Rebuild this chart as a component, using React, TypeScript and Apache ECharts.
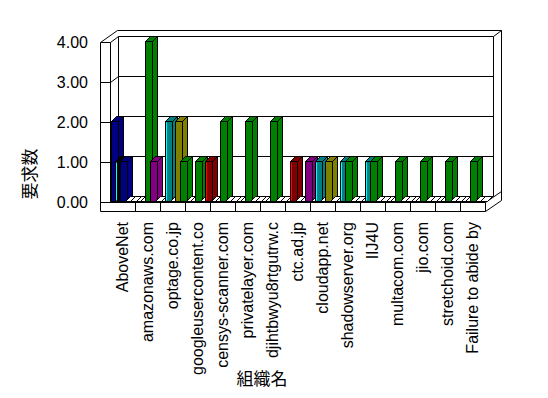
import React, { useEffect, useRef } from "react";
import * as echarts from "echarts";

const categories = [
  "AboveNet",
  "amazonaws.com",
  "optage.co.jp",
  "googleusercontent.co",
  "censys-scanner.com",
  "privatelayer.com",
  "djihtbwyu8rtgutrw.c",
  "ctc.ad.jp",
  "cloudapp.net",
  "shadowserver.org",
  "IIJ4U",
  "multacom.com",
  "jio.com",
  "stretchoid.com",
  "Failure to abide by",
];

const yTicks = [0, 1, 2, 3, 4];

// series values, one entry per category
const navyA = [2, 0, 0, 0, 0, 0, 0, 0, 0, 0, 0, 0, 0, 0, 0];
const blackB = [1, 0, 0, 0, 0, 0, 0, 0, 0, 0, 0, 0, 0, 0, 0];
const tealB = [0, 0, 2, 0, 0, 0, 0, 0, 1, 1, 1, 0, 0, 0, 0];
const maroonB = [0, 0, 0, 0, 0, 0, 0, 1, 0, 0, 0, 0, 0, 0, 0];
const navyC = [1, 0, 0, 0, 0, 0, 0, 0, 0, 0, 0, 0, 0, 0, 0];
const greenC = [0, 4, 0, 1, 2, 2, 2, 0, 0, 1, 1, 1, 1, 1, 1];
const purpleD = [0, 1, 0, 0, 0, 0, 0, 0, 0, 0, 0, 0, 0, 0, 0];
const oliveD = [0, 0, 2, 0, 0, 0, 0, 0, 1, 0, 0, 0, 0, 0, 0];
const greenE = [0, 0, 1, 0, 0, 0, 0, 0, 0, 0, 0, 0, 0, 0, 0];
const maroonE = [0, 0, 0, 1, 0, 0, 0, 0, 0, 0, 0, 0, 0, 0, 0];
const purpleE = [0, 0, 0, 0, 0, 0, 0, 1, 0, 0, 0, 0, 0, 0, 0];

const barSeries = [
  { values: navyA, slot: 0, color: "#000080", edge: "#000080" },
  { values: blackB, slot: 1, color: "#000000", edge: "#00ffff" },
  { values: tealB, slot: 1, color: "#008080", edge: "#00ffff" },
  { values: maroonB, slot: 1, color: "#800000", edge: "#ff0000" },
  { values: navyC, slot: 2, color: "#000080", edge: "#000080" },
  { values: greenC, slot: 2, color: "#008000", edge: "#008000" },
  { values: purpleD, slot: 3, color: "#800080", edge: "#800080" },
  { values: oliveD, slot: 3, color: "#808000", edge: "#808000" },
  { values: greenE, slot: 4, color: "#008000", edge: "#008000" },
  { values: maroonE, slot: 4, color: "#800000", edge: "#ff0000" },
  { values: purpleE, slot: 4, color: "#800080", edge: "#800080" },
];
const SLOTS = 5;

const FONT = "'Liberation Sans', Arial, sans-serif";
const JP = "'Noto Sans CJK JP', sans-serif";

function buildBarData() {
  const out: number[][] = [];
  for (let c = 0; c < categories.length; c++) {
    for (let s = 0; s < SLOTS; s++) {
      let v = 0;
      let si = -1;
      barSeries.forEach((ser, i) => {
        if (ser.slot === s && ser.values[c] > 0) {
          v = ser.values[c];
          si = i;
        }
      });
      out.push([c, v, s, si]);
    }
  }
  return out;
}

const h = (n: number) => Math.round(n) + 0.5;
const ln = (x1: number, y1: number, x2: number, y2: number) => ({
  type: "line",
  shape: { x1: h(x1), y1: h(y1), x2: h(x2), y2: h(y2) },
  style: { stroke: "#000", lineWidth: 1 },
});

export default function App() {
  const ref = useRef<HTMLDivElement>(null);
  useEffect(() => {
    if (!ref.current) return;
    const chart = echarts.init(ref.current, undefined, { renderer: "svg" });

    const boxRender = (params: any, api: any) => {
      const band = api.size([1, 0])[0];
      const p0 = api.coord([0, 0]);
      const xL = p0[0] - band / 2;
      const xR = xL + band * categories.length;
      const yAt = (v: number) => api.coord([0, v])[1];
      const y0 = yAt(yTicks[0]);
      const yMax = yAt(yTicks[yTicks.length - 1]);
      const kids: any[] = [];
      // back wall
      kids.push({
        type: "rect",
        shape: { x: h(xL + 8), y: h(yMax - 6), width: Math.round(xR - xL), height: Math.round(y0 - yMax) },
        style: { fill: "#fff", stroke: "#000", lineWidth: 1 },
      });
      // outer frame
      kids.push(ln(xL - 10, yMax, xL - 10, y0 + 9));
      kids.push(ln(xL - 10, yMax, xL + 7, yMax - 12));
      kids.push(ln(xL + 7, yMax - 12, xR + 16, yMax - 12));
      kids.push(ln(xR + 16, yMax - 12, xR + 16, y0 - 2));
      kids.push(ln(xR + 8, yMax - 6, xR + 16, yMax - 12));
      // left wall front edge
      kids.push(ln(xL, yMax, xL, y0));
      // grid lines
      yTicks.forEach((v) => {
        const y = yAt(v);
        kids.push(ln(xL - 10, y, xL, y));
        kids.push(ln(xL, y, xL + 8, y - 6));
        if (v !== yTicks[0] && v !== yTicks[yTicks.length - 1]) kids.push(ln(xL + 8, y - 6, xR + 8, y - 6));
      });
      // floor slab
      kids.push(ln(xL - 10, y0, xR, y0));
      kids.push(ln(xL - 10, y0 + 9, xR, y0 + 9));
      kids.push(ln(xR, y0, xR, y0 + 9));
      for (let k = 1; k < categories.length; k++) {
        kids.push(ln(xL + band * k, y0, xL + band * k, y0 + 9));
      }
      kids.push(ln(xR, y0, xR + 16, y0 - 11));
      kids.push(ln(xR, y0 + 9, xR + 16, y0 - 2));
      return { type: "group", children: kids };
    };

    const barRender = (params: any, api: any) => {
      const c = api.value(0);
      const v = api.value(1);
      const s = api.value(2);
      const si = api.value(3);
      const band = api.size([1, 0])[0];
      const sc = band / 25;
      const base = api.coord([c, 0]);
      const top = api.coord([c, v]);
      const x0 = Math.round(base[0] - band / 2 + (0.5 + 4.8 * s) * sc) + 0.5;
      const w = Math.round(7 * sc);
      const dx = 5;
      const dy = -5;
      const yb = Math.round(base[1]) - 1 + 0.5;
      const yt = Math.round(top[1]) - 1 + 0.5;
      if (si < 0 || v <= 0) {
        return {
          type: "polygon",
          shape: { points: [[x0, yb], [x0 + dx, yb + dy], [x0 + w + dx, yb + dy], [x0 + w, yb]] },
          style: { fill: "#fff", stroke: "#000", lineWidth: 1 },
        };
      }
      const ser = barSeries[si];
      const st = { fill: ser.color, stroke: "#000", lineWidth: 1 };
      return {
        type: "group",
        children: [
          {
            type: "polygon",
            shape: { points: [[x0 + w, yb], [x0 + w + dx, yb + dy], [x0 + w + dx, yt + dy], [x0 + w, yt]] },
            style: st,
          },
          {
            type: "polygon",
            shape: { points: [[x0, yt], [x0 + dx, yt + dy], [x0 + w + dx, yt + dy], [x0 + w, yt]] },
            style: st,
          },
          { type: "rect", shape: { x: x0, y: yt, width: w, height: yb - yt }, style: st },
          {
            type: "line",
            shape: { x1: x0 + 1, y1: yt + 1, x2: x0 + 1, y2: yb - 1 },
            style: { stroke: ser.edge, lineWidth: 1 },
          },
        ],
      };
    };

    chart.setOption({
      animation: false,
      backgroundColor: "#fff",
      grid: { left: 110, right: 63, top: 42, bottom: 196 },
      xAxis: {
        type: "category",
        data: categories,
        axisLine: { show: false },
        axisTick: { show: false },
        splitLine: { show: false },
        axisLabel: { rotate: 90, margin: 20, interval: 0, fontSize: 16, color: "#000", fontFamily: FONT },
      },
      yAxis: {
        type: "value",
        min: yTicks[0],
        max: yTicks[yTicks.length - 1],
        interval: 1,
        axisLine: { show: false },
        axisTick: { show: false },
        splitLine: { show: false },
        axisLabel: {
          formatter: (v: number) => v.toFixed(2),
          margin: 22,
          fontSize: 16,
          color: "#000",
          fontFamily: FONT,
        },
      },
      graphic: [
        {
          type: "text",
          x: 28,
          y: 174,
          rotation: Math.PI / 2,
          style: { text: "要求数", fontSize: 17, fontFamily: JP, fill: "#000", align: "center", verticalAlign: "middle" },
        },
        {
          type: "text",
          x: 262,
          y: 377,
          style: { text: "組織名", fontSize: 17, fontFamily: JP, fill: "#000", align: "center", verticalAlign: "middle" },
        },
      ],
      series: [
        {
          type: "custom",
          z: 1,
          clip: false,
          silent: true,
          renderItem: boxRender,
          encode: { x: 0, y: 1 },
          data: [[0, 0]],
        },
        {
          type: "custom",
          z: 2,
          clip: false,
          renderItem: barRender,
          encode: { x: 0, y: 1 },
          data: buildBarData(),
        },
      ],
    });
    return () => chart.dispose();
  }, []);
  return <div ref={ref} style={{ position: "absolute", left: 0, top: 0, width: 548, height: 398 }} />;
}
